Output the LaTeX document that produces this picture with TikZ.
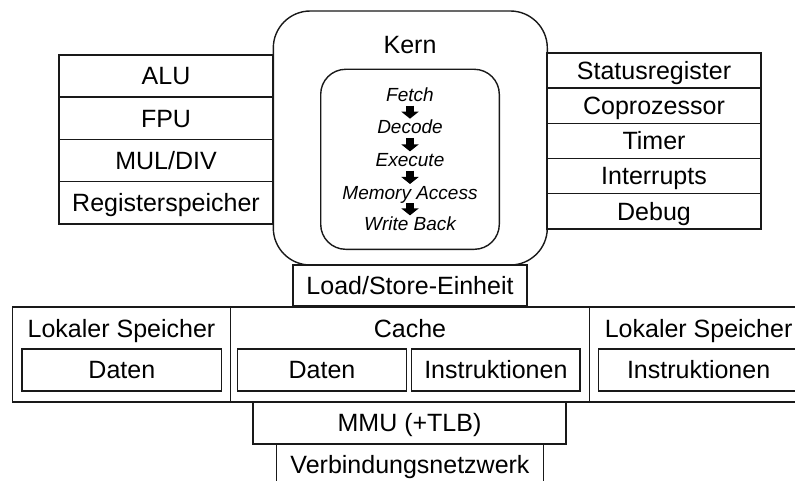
\documentclass[tikz,border=0pt]{standalone}
\usepackage{fontspec}
\setmainfont{Liberation Sans}
\usetikzlibrary{arrows.meta}
\begin{document}
\begin{tikzpicture}[x=1pt,y=-1pt,
  frame/.style={draw=black!90, line width=1.4pt, fill=white},
  box/.style={frame, inner sep=0pt, text height=17.6pt, text depth=0pt,
    font=\fontsize{25}{30}\selectfont},
  title/.style={inner sep=0pt, anchor=base, font=\fontsize{25}{30}\selectfont},
  stage/.style={inner sep=0pt, anchor=base, text height=13.6pt, text depth=0pt,
    font=\fontsize{19}{23}\selectfont\itshape},
  flow/.style={line width=7.5pt, black, -{Triangle[length=7pt,width=17pt]}},
  lrow/.style={box, minimum width=214pt, minimum height=42.3pt},
  rrow/.style={box, minimum width=214pt, minimum height=35.2pt},
  memframe/.style={frame, inner sep=0pt, minimum height=95pt},
  membox/.style={box, minimum height=41.7pt}]
\clip (0,0) rectangle (795,481);

% processor core with its pipeline
\node[frame, rounded corners=37pt, minimum width=274pt, minimum height=254pt,
  inner sep=0pt] (kern) at (410.3,138) {};
\node[title] (kernlabel) at (410,54) {Kern};
\node[frame, rounded corners=25pt, minimum width=178.6pt, minimum height=180pt,
  inner sep=0pt] (pipeline) at (410,159.3) {};

\node[stage] (fetch) at (410,101.7) {Fetch};
\node[stage] (decode) at (410,134) {Decode};
\node[stage] (execute) at (410,166.7) {Execute};
\node[stage] (memacc) at (410,199.3) {Memory Access};
\node[stage] (wb) at (410,230.7) {Write Back};

\draw[flow] ([yshift=-4pt]fetch.base) -- ([yshift=1.5pt]decode.north);
\draw[flow] ([yshift=-4pt]decode.base) -- ([yshift=1.5pt]execute.north);
\draw[flow] ([yshift=-4pt]execute.base) -- ([yshift=1.5pt]memacc.north);
\draw[flow] ([yshift=-4pt]memacc.base) -- ([yshift=1.5pt]wb.north);

% units on the left side of the core
\node[lrow] (alu) at (166,76) {ALU};
\node[lrow] (fpu) at (166,118.3) {FPU};
\node[lrow] (muldiv) at (166,160.6) {MUL/DIV};
\node[lrow] (regs) at (166,202.9) {Registerspeicher};

% units on the right side of the core
\node[rrow] (status) at (654,70.6) {Statusregister};
\node[rrow] (copro) at (654,105.8) {Coprozessor};
\node[rrow] (timer) at (654,141) {Timer};
\node[rrow] (irq) at (654,176.2) {Interrupts};
\node[rrow] (debug) at (654,211.4) {Debug};

% load/store unit below the core
\node[box, minimum width=234pt, minimum height=41pt] (lsu) at (410,285.5) {Load/Store-Einheit};

% memories
\node[memframe, minimum width=218.4pt] (lokalL) at (121.5,354.5) {};
\node[title] (lokalLlabel) at (121.5,337.7) {Lokaler Speicher};
\node[membox, minimum width=199.7pt] (datenL) at (121.85,370) {Daten};

\node[memframe, minimum width=358.6pt] (cache) at (410,354.5) {};
\node[title] (cachelabel) at (410,337.7) {Cache};
\node[membox, minimum width=169.4pt] (cdaten) at (322,370) {Daten};
\node[membox, minimum width=168.3pt] (cinstr) at (495.85,370) {Instruktionen};

\node[memframe, minimum width=218.4pt] (lokalR) at (698.6,354.5) {};
\node[title] (lokalRlabel) at (698.6,337.7) {Lokaler Speicher};
\node[membox, minimum width=199.7pt] (instrR) at (698.6,370) {Instruktionen};

% memory management and interconnect
\node[box, minimum width=313pt, minimum height=42pt] (mmu) at (409.5,423) {MMU (+TLB)};
\node[box, minimum width=266.6pt, minimum height=42pt] (netz) at (410,465) {Verbindungsnetzwerk};
\end{tikzpicture}
\end{document}
